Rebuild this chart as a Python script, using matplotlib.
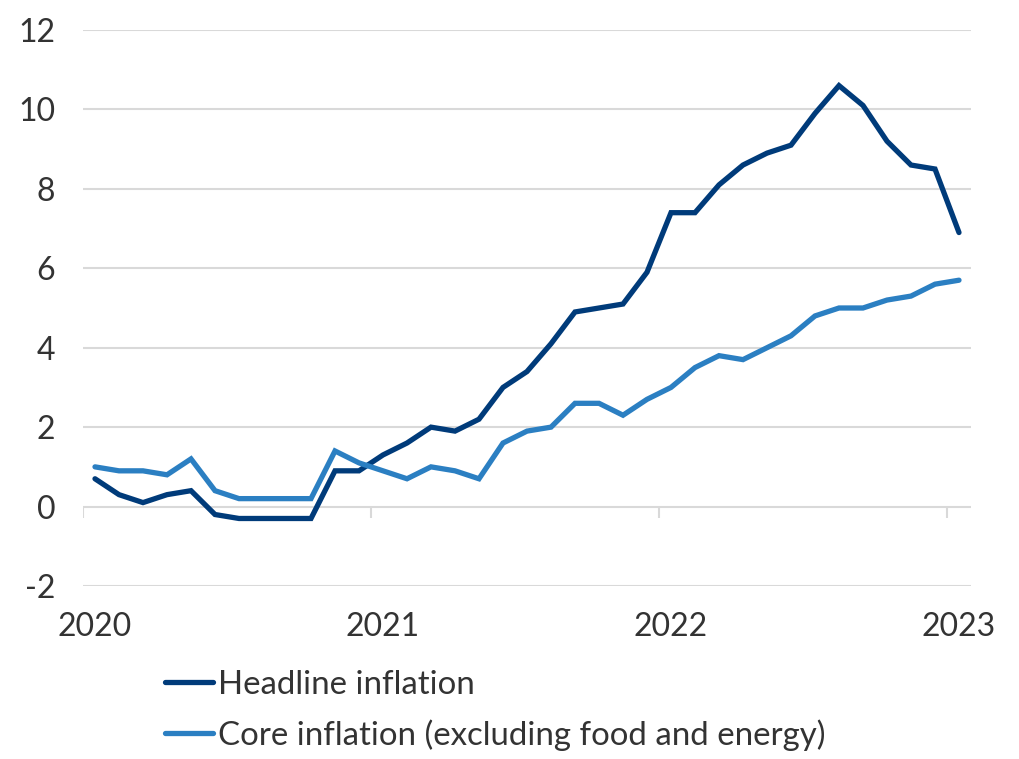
import matplotlib
matplotlib.use("Agg")
import matplotlib.pyplot as plt
from matplotlib import font_manager as fm

years = ["2020", "2021", "2022", "2023"]
headline = [0.7, 0.3, 0.1, 0.3, 0.4, -0.2, -0.3, -0.3, -0.3, -0.3, 0.9, 0.9,
            1.3, 1.6, 2.0, 1.9, 2.2, 3.0, 3.4, 4.1, 4.9, 5.0, 5.1, 5.9,
            7.4, 7.4, 8.1, 8.6, 8.9, 9.1, 9.9, 10.6, 10.1, 9.2, 8.6, 8.5, 6.9]
core = [1.0, 0.9, 0.9, 0.8, 1.2, 0.4, 0.2, 0.2, 0.2, 0.2, 1.4, 1.1,
        0.9, 0.7, 1.0, 0.9, 0.7, 1.6, 1.9, 2.0, 2.6, 2.6, 2.3, 2.7,
        3.0, 3.5, 3.8, 3.7, 4.0, 4.3, 4.8, 5.0, 5.0, 5.2, 5.3, 5.6, 5.7]
labels = ["Headline inflation", "Core inflation (excluding food and energy)"]
colors = ["#003b7a", "#2b7fc2"]
yticks = [-2, 0, 2, 4, 6, 8, 10, 12]

names = {f.name for f in fm.fontManager.ttflist}
family = "Lato" if "Lato" in names else "DejaVu Sans"
plt.rcParams["font.family"] = [family, "DejaVu Sans"]
TXT = "#333333"
FS = 23

fig = plt.figure(figsize=(10.19, 7.59), dpi=100)
ax = fig.add_axes([83/1019, 1-586/759, (971-83)/1019, (586-30)/759])

x = list(range(len(headline)))
ax.plot(x, headline, color=colors[0], lw=3.8, label=labels[0], solid_joinstyle="miter", solid_capstyle="round")
ax.plot(x, core, color=colors[1], lw=3.8, label=labels[1], solid_joinstyle="miter", solid_capstyle="round")

ax.set_xlim(-0.5, 36.5)
ax.set_ylim(-2, 12)
ax.set_yticks(yticks)
ax.set_yticklabels([str(v) for v in yticks])
ax.yaxis.grid(True, color="#d9d9d9", lw=1.5)
ax.set_axisbelow(True)
for s in ax.spines.values():
    s.set_visible(False)

label_pos = [12*i for i in range(len(years))]
tick_pos = [p - 0.5 for p in label_pos]
ax.set_xticks(label_pos)
ax.set_xticklabels(years)
ax.tick_params(axis="both", length=0, labelsize=FS, labelcolor=TXT)
ax.tick_params(axis="x", pad=19)
ax.tick_params(axis="y", pad=20)
ax.vlines(tick_pos, -0.28, 0, color="#d9d9d9", lw=1.5, zorder=1)

leg = fig.legend(loc="upper left", bbox_to_anchor=(165/1019, 1-670/759), frameon=False,
                 fontsize=23.8, handlelength=1.45, handletextpad=0.15, labelspacing=0.58,
                 borderaxespad=0, borderpad=0)
for t in leg.get_texts():
    t.set_color(TXT)

fig.savefig("out.png", dpi=100)
